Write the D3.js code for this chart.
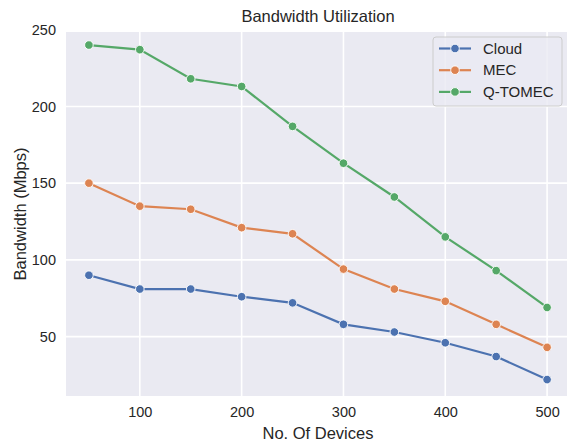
<!DOCTYPE html>
<html>
<head>
<meta charset="utf-8">
<script src="https://cdn.jsdelivr.net/npm/d3@7"></script>
<style>
  body { margin: 0; background: #fff; }
  svg { display: block; font-family: "Liberation Sans", Arial, sans-serif; }
</style>
</head>
<body>
<svg id="chart" width="567" height="446"></svg>
<script>
// data
const devices = [50, 100, 150, 200, 250, 300, 350, 400, 450, 500];
const cloud = [90, 81, 81, 76, 72, 58, 53, 46, 37, 22];
const mec = [150, 135, 133, 121, 117, 94, 81, 73, 58, 43];
const qtomec = [240, 237, 218, 213, 187, 163, 141, 115, 93, 69];
const seriesNames = ['Cloud', 'MEC', 'Q-TOMEC'];
const xTicks = [100, 200, 300, 400, 500];
const yTicks = [50, 100, 150, 200, 250];

const colors = ['#4c72b0', '#dd8452', '#55a868'];
const series = [cloud, mec, qtomec].map((vals, i) => ({
  name: seriesNames[i],
  color: colors[i],
  points: vals.map((v, j) => ({ x: devices[j], y: v }))
}));

const svg = d3.select('#chart');
const margin = { top: 32, right: -3, bottom: 50, left: 66 };
const width = +svg.attr('width') - margin.left - margin.right,
  height = +svg.attr('height') - margin.top - margin.bottom;

const x = d3.scaleLinear().domain([27.5, 522.5]).range([0, width]);
const y = d3.scaleLinear().domain([11.3, 248.5]).range([height, 0]);

const g = svg.append('g')
  .attr('transform', `translate(${margin.left},${margin.top})`);

g.append('rect')
  .attr('width', width)
  .attr('height', height)
  .attr('fill', '#eaeaf2');

// grid
g.append('g')
  .selectAll('line')
  .data(xTicks)
  .enter().append('line')
  .attr('x1', d => x(d)).attr('x2', d => x(d))
  .attr('y1', 0).attr('y2', height)
  .attr('stroke', '#fff').attr('stroke-width', 1.6);

g.append('g')
  .selectAll('line')
  .data(yTicks)
  .enter().append('line')
  .attr('y1', d => y(d)).attr('y2', d => y(d))
  .attr('x1', 0).attr('x2', width)
  .attr('stroke', '#fff').attr('stroke-width', 1.6);

// axes (labels only, no domain or ticks, like seaborn darkgrid)
const xAxis = g.append('g')
  .attr('transform', `translate(0,${height})`)
  .call(d3.axisBottom(x).tickValues(xTicks).tickSize(0).tickPadding(11));
const yAxis = g.append('g')
  .call(d3.axisLeft(y).tickValues(yTicks).tickSize(0).tickPadding(10));
[xAxis, yAxis].forEach(ax => {
  ax.select('.domain').remove();
  ax.selectAll('text')
    .attr('fill', '#262626')
    .style('font-size', '14.5px')
    .style('font-family', '"Liberation Sans", Arial, sans-serif');
});

// lines and markers
const line = d3.line().x(d => x(d.x)).y(d => y(d.y));
series.forEach(s => {
  g.append('path')
    .datum(s.points)
    .attr('d', line)
    .attr('fill', 'none')
    .attr('stroke', s.color)
    .attr('stroke-width', 2.2);
  g.selectAll(null)
    .data(s.points)
    .enter().append('circle')
    .attr('cx', d => x(d.x))
    .attr('cy', d => y(d.y))
    .attr('r', 4.3)
    .attr('fill', s.color)
    .attr('stroke', '#fff')
    .attr('stroke-width', 0.9);
});

// title and axis labels
svg.append('text')
  .attr('x', margin.left + width / 2)
  .attr('y', 22)
  .attr('text-anchor', 'middle')
  .attr('fill', '#262626')
  .style('font-size', '16.5px')
  .text('Bandwidth Utilization');

svg.append('text')
  .attr('x', margin.left + width / 2)
  .attr('y', 439)
  .attr('text-anchor', 'middle')
  .attr('fill', '#262626')
  .style('font-size', '16.5px')
  .text('No. Of Devices');

svg.append('text')
  .attr('transform', `translate(26,${margin.top + height / 2}) rotate(-90)`)
  .attr('text-anchor', 'middle')
  .attr('fill', '#262626')
  .style('font-size', '16.5px')
  .text('Bandwidth (Mbps)');

// legend
const leg = svg.append('g').attr('transform', 'translate(433,37)');
leg.append('rect')
  .attr('width', 129).attr('height', 69)
  .attr('rx', 3)
  .attr('fill', '#eaeaf2').attr('fill-opacity', 0.8)
  .attr('stroke', '#cccccc').attr('stroke-width', 1);
series.forEach((s, i) => {
  const row = leg.append('g').attr('transform', `translate(0,${11.5 + i * 21.7})`);
  row.append('line')
    .attr('x1', 6).attr('x2', 38)
    .attr('stroke', s.color).attr('stroke-width', 2.2);
  row.append('circle')
    .attr('cx', 22).attr('r', 4.3)
    .attr('fill', s.color).attr('stroke', '#fff').attr('stroke-width', 0.9);
  row.append('text')
    .attr('x', 50).attr('dy', '0.35em')
    .attr('fill', '#262626')
    .style('font-size', '15px')
    .text(s.name);
});
</script>
</body>
</html>
